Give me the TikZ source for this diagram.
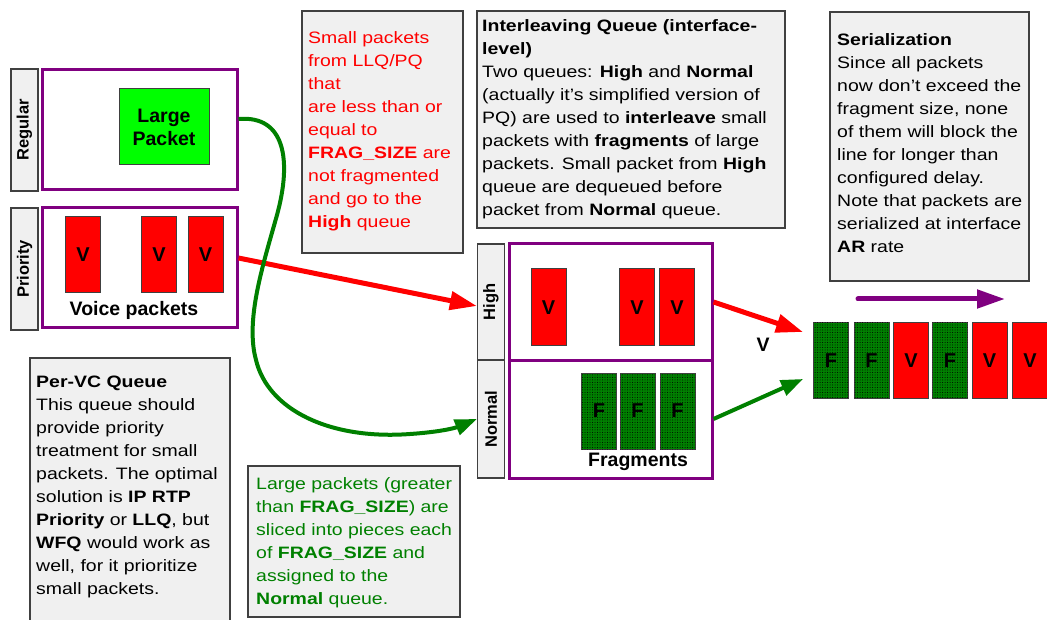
\documentclass[tikz,border=0pt]{standalone}
\usepackage{fontspec}
\setmainfont{Liberation Sans}[FakeStretch=1.18]
\newfontfamily\plainsans{Liberation Sans}
\usetikzlibrary{arrows.meta,patterns.meta}
\definecolor{qpurple}{HTML}{800080}
\definecolor{dgreen}{HTML}{008000}
\definecolor{lgreen}{HTML}{00FF00}
\definecolor{notegray}{HTML}{F0F0F0}
\definecolor{edge}{HTML}{404040}
\begin{document}
\begin{tikzpicture}[x=1pt,y=-1pt,
  every node/.style={font=\fontsize{16.5}{23}\selectfont},
  lbl/.style={draw=edge, fill=notegray, line width=1.2pt, minimum width=27pt, inner sep=0pt, font=\plainsans\fontsize{16.5}{20}\selectfont\bfseries},
  qbox/.style={draw=qpurple, line width=3pt, inner sep=0pt},
  pkt/.style={draw=edge, line width=1pt, minimum width=35pt, minimum height=76pt, inner sep=0pt, font=\plainsans\fontsize{20}{23}\selectfont\bfseries},
  vpkt/.style={pkt, fill=red},
  fpkt/.style={pkt, fill=dgreen, postaction={pattern={Dots[distance=2.5pt,radius=0.5pt]}, pattern color=black}},
  note/.style={draw=edge, fill=notegray, line width=1.2pt, inner sep=0pt},
  notetext/.style={anchor=north west, inner sep=0pt, align=left},
  bigbold/.style={font=\plainsans\fontsize{19.5}{23}\selectfont\bfseries},
  redarrow/.style={draw=red, line width=5pt, -{Triangle[length=27pt,width=18pt]}},
  greenarrow/.style={draw=dgreen, line width=4pt, -{Triangle[length=22pt,width=16pt]}},
  purplearrow/.style={draw=qpurple, line width=5pt, line cap=round, -{Triangle[length=28pt,width=18pt]}}
]
\useasboundingbox (0,0) rectangle (1047,620);

% left queues
\node[lbl, minimum height=122pt] (reglbl) at (24.5,130) {\rotatebox{90}{Regular}};
\node[qbox, minimum width=195pt, minimum height=120pt] (reg) at (139.5,130) {};
\node[draw=edge, fill=lgreen, line width=1pt, minimum width=90pt, minimum height=76pt, inner sep=0pt, align=center, bigbold] (large) at (164,127) {Large\\Packet};

\node[lbl, minimum height=122pt] (prilbl) at (24.5,269) {\rotatebox{90}{Priority}};
\node[qbox, minimum width=195pt, minimum height=120pt] (pri) at (139.5,268) {};
\node[vpkt] (v1) at (83,255) {V};
\node[vpkt] (v2) at (159,255) {V};
\node[vpkt] (v3) at (205.5,255) {V};
\node[bigbold] (voice) at (134,310) {Voice packets};

% interleaving queue
\node[lbl, minimum height=116pt] (highlbl) at (491,302) {\rotatebox{90}{High}};
\node[lbl, minimum height=118pt] (normlbl) at (491,419) {\rotatebox{90}{Normal}};
\node[qbox, minimum width=203pt, minimum height=116pt] (hq) at (610.5,302) {};
\node[qbox, minimum width=203pt, minimum height=118pt] (nq) at (610.5,419) {};
\node[vpkt, minimum height=77pt] (hv1) at (548.5,307.5) {V};
\node[vpkt, minimum height=77pt] (hv2) at (637,307.5) {V};
\node[vpkt, minimum height=77pt] (hv3) at (677,307.5) {V};
\node[fpkt] (f1) at (599,411) {F};
\node[fpkt] (f2) at (637.5,411) {F};
\node[fpkt] (f3) at (677.5,411) {F};
\node[bigbold] (frag) at (638,462) {Fragments};

% serialized line
\node[fpkt] (s1) at (831,360.5) {F};
\node[fpkt] (s2) at (871.5,360.5) {F};
\node[vpkt] (s3) at (911,360.5) {V};
\node[fpkt] (s4) at (950,360.5) {F};
\node[vpkt] (s5) at (989.5,360.5) {V};
\node[vpkt] (s6) at (1030,360.5) {V};
\node[bigbold] (vlab) at (763,345) {V};
\coordinate (rin) at (803,332);
\coordinate (gin) at (803,379);
\coordinate (pa) at (858,299);
\coordinate (pb) at (1005,299);

% notes
\node[note, minimum width=200pt, minimum height=275pt] (pervc) at (130,495.5) {};
\node[notetext] (pervctxt) at (36,376) {\textbf{Per-VC Queue}\\
This queue should\\
provide priority\\
treatment for small\\
packets. The optimal\\
solution is \textbf{IP RTP}\\
\textbf{Priority} or \textbf{LLQ}, but\\
\textbf{WFQ} would work as\\
well, for it prioritize\\
small packets.};

\node[note, minimum width=212pt, minimum height=151pt] (gnote) at (354,541.5) {};
\node[notetext, text=dgreen] (gnotetxt) at (256,477) {Large packets (greater\\
than \textbf{FRAG\_SIZE}) are\\
sliced into pieces each\\
of \textbf{FRAG\_SIZE} and\\
assigned to the\\
\textbf{Normal} queue.};

\node[note, minimum width=161pt, minimum height=242pt] (rnote) at (382.5,132) {};
\node[notetext, text=red] (rnotetxt) at (308,31) {Small packets\\
from LLQ/PQ\\
that\\
are less than or\\
equal to\\
\textbf{FRAG\_SIZE} are\\
not fragmented\\
and go to the\\
\textbf{High} queue};

\node[note, minimum width=308pt, minimum height=217pt] (inote) at (631,119.5) {};
\node[notetext] (inotetxt) at (482,19) {\textbf{Interleaving Queue (interface-}\\
\textbf{level)}\\
Two queues: \textbf{High} and \textbf{Normal}\\
(actually it’s simplified version of\\
PQ) are used to \textbf{interleave} small\\
packets with \textbf{fragments} of large\\
packets. Small packet from \textbf{High}\\
queue are dequeued before\\
packet from \textbf{Normal} queue.};

\node[note, minimum width=199pt, minimum height=269pt] (snote) at (929.5,146.5) {};
\node[notetext] (snotetxt) at (837,33) {\textbf{Serialization}\\
Since all packets\\
now don’t exceed the\\
fragment size, none\\
of them will block the\\
line for longer than\\
configured delay.\\
Note that packets are\\
serialized at interface\\
\textbf{AR} rate};

% connectors
\draw[redarrow] ([yshift=10pt]pri.east) -- ([yshift=-4pt]highlbl.west);
\draw[greenarrow] ([yshift=11pt]reg.east) .. controls (285,115) and (292,160) .. (277,215)
  .. controls (263,265) and (245,320) .. (256,360)
  .. controls (268,410) and (330,440) .. (410,434)
  .. controls (440,432) and (455,428) .. (normlbl.west);
\draw[redarrow] (hq.east) -- (rin);
\draw[greenarrow] (nq.east) -- (gin);
\draw[purplearrow] (pa) -- (pb);
\end{tikzpicture}
\end{document}
